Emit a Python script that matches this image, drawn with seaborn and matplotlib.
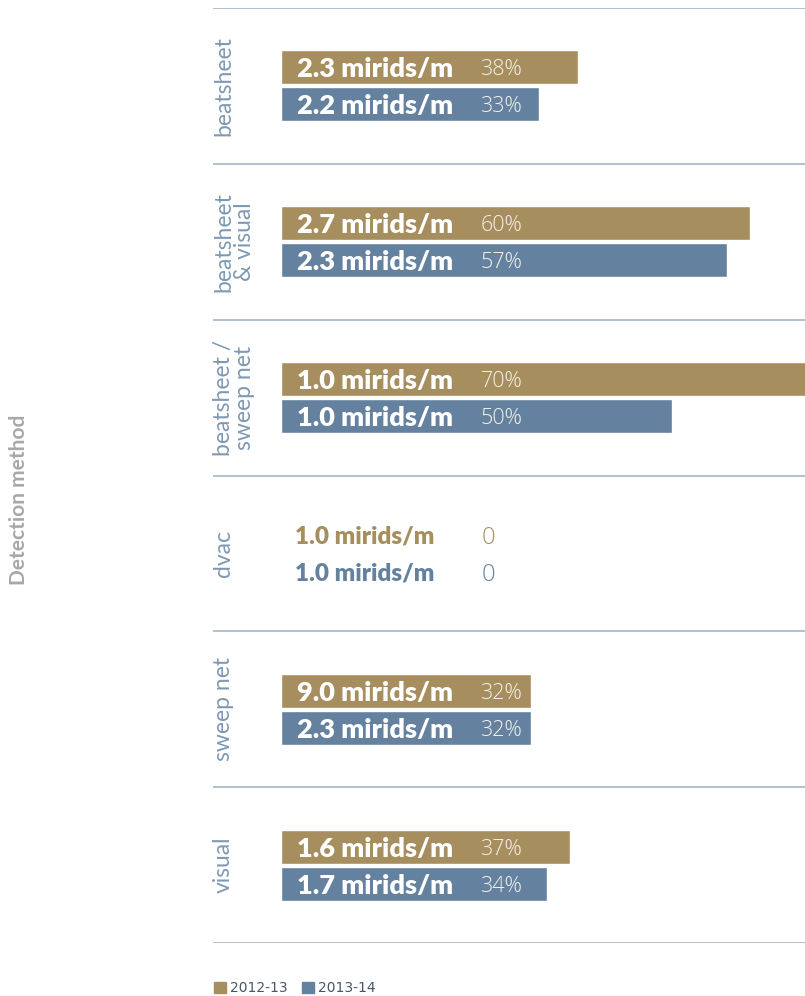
import pandas as pd
import matplotlib.pyplot as plt
import seaborn as sns
from matplotlib.patches import Patch

# Data
methods = ['beatsheet', 'beatsheet\n& visual', 'beatsheet /\nsweep net', 'dvac', 'sweep net', 'visual']
seasons = ['2012-13', '2013-14']
pct_2012 = [38, 60, 70, 0, 32, 37]
pct_2013 = [33, 57, 50, 0, 32, 34]
mirids_2012 = [2.3, 2.7, 1.0, 1.0, 9.0, 1.6]
mirids_2013 = [2.2, 2.3, 1.0, 1.0, 2.3, 1.7]

gold = '#A78E5E'
blue = '#64829F'
line_col = '#9DB0C4'
label_col = '#7F99B3'

df = pd.DataFrame({
    'method': methods * 2,
    'season': [seasons[0]] * len(methods) + [seasons[1]] * len(methods),
    'pct': pct_2012 + pct_2013,
    'mirids': mirids_2012 + mirids_2013,
})

sns.set_theme(style='white')
plt.rcParams['font.family'] = ['Lato', 'DejaVu Sans']

fig = plt.figure(figsize=(8.05, 9.96), dpi=100)
ax = fig.add_axes([213 / 805, 1 - 943 / 996, 1 - 213 / 805, 935 / 996])

sns.barplot(data=df, y='method', x='pct', hue='season', order=methods, hue_order=seasons,
            palette={seasons[0]: gold, seasons[1]: blue}, orient='h', width=0.475, gap=0.08,
            saturation=1, legend=False, ax=ax)

ax.set_xlim(-8.7, 67.0)
ax.set_ylim(5.5, -0.5)
for sp in ax.spines.values():
    sp.set_visible(False)
ax.set_xticks([])
ax.set_xlabel('')
ax.set_ylabel('')
for y in range(len(methods) + 1):
    ax.axhline(y - 0.5, color=line_col, lw=1.1, zorder=0)

# group labels drawn inside the left part of the axes
ax.set_yticks([])
for i, m in enumerate(methods):
    ax.text(-8.7, i, m, rotation=90, ha='left', va='center', ma='center',
            color=label_col, fontsize=16.5, linespacing=1.0)

# value labels
light = ['Open Sans', 'DejaVu Sans']
off = 0.475 / 4
for i in range(len(methods)):
    for j, (pcts, mir, col) in enumerate([(pct_2012, mirids_2012, gold), (pct_2013, mirids_2013, blue)]):
        yy = i - off if j == 0 else i + off
        if pcts[i] > 0:
            ax.text(2.05, yy, f'{mir[i]:.1f} mirids/m', color='white', fontweight='heavy',
                    fontsize=19.5, ha='left', va='center_baseline')
            ax.text(25.5, yy, f'{pcts[i]}%', color='#F4F1EA', fontweight='light', family=light,
                    fontsize=15.5, ha='left', va='center_baseline')
        else:
            ax.text(1.8, yy, f'{mir[i]:.1f} mirids/m', color=col, fontweight='heavy',
                    fontsize=17.5, ha='left', va='center_baseline')
            ax.text(25.7, yy, f'{pcts[i]}', color=col, fontweight='light', family=light,
                    fontsize=17, ha='left', va='center_baseline')

fig.text(19 / 805, 1 - 500 / 996, 'Detection method', rotation=90, ha='center', va='center',
         color='#A8A8AA', fontweight='bold', fontsize=15)

handles = [Patch(color=gold, label=seasons[0]), Patch(color=blue, label=seasons[1])]
leg = fig.legend(handles=handles, loc='lower left', bbox_to_anchor=(201 / 805, -0.012), ncol=2,
                 frameon=False, handlelength=0.9, handleheight=0.9, handletextpad=0.3,
                 columnspacing=1.0, fontsize=10)
for t in leg.get_texts():
    t.set_color('#4A5663')
    t.set_family(['Liberation Sans Narrow', 'DejaVu Sans'])

fig.savefig('out.png', dpi=100)
